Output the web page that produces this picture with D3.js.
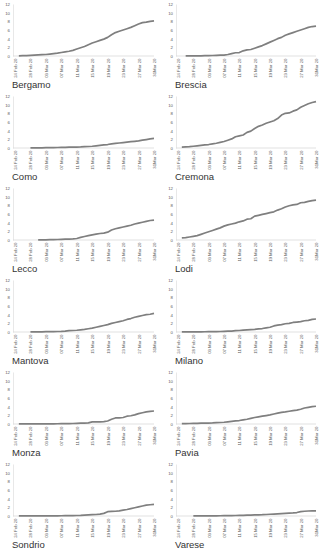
<!DOCTYPE html>
<html>
<head>
<meta charset="utf-8">
<script src="https://cdn.jsdelivr.net/npm/d3@7"></script>
<style>
  body { margin: 0; background: #fff; }
  text { font-family: "Liberation Sans", Arial, sans-serif; }
</style>
</head>
<body>
<svg id="chart"></svg>
<script>
// day index 0 = 24 Feb 2020 ... 36 = 31 Mar 2020
const tickDays = [0, 4, 8, 12, 16, 20, 24, 28, 32, 36];
const tickLabels = ['24 Feb 20', '28 Feb 20', '03 Mar 20', '07 Mar 20', '11 Mar 20',
  '15 Mar 20', '19 Mar 20', '23 Mar 20', '27 Mar 20', '31Mar 20'];
const yTicks = [0, 2, 4, 6, 8, 10, 12];

const provinces = ['Bergamo', 'Brescia', 'Como', 'Cremona', 'Lecco', 'Lodi',
  'Mantova', 'Milano', 'Monza', 'Pavia', 'Sondrio', 'Varese'];

const bergamo = [null,
  0.05, 0.08, 0.1, 0.15, 0.2, 0.25, 0.3, 0.35, 0.45, 0.55, 0.65, 0.8,
  0.95, 1.1, 1.3, 1.6, 1.9, 2.2, 2.6, 3.0, 3.3, 3.6, 3.9, 4.3,
  4.9, 5.4, 5.7, 6.0, 6.3, 6.6, 7.0, 7.4, 7.7, 7.8, 8.0, 8.1];
const brescia = [null, null,
  0.05, 0.05, 0.05, 0.05, 0.05, 0.08, 0.1, 0.12, 0.15, 0.18, 0.2,
  0.35, 0.55, 0.75, 0.8, 1.2, 1.4, 1.5, 1.8, 2.1, 2.4, 2.8, 3.2,
  3.6, 4.0, 4.3, 4.8, 5.1, 5.4, 5.7, 6.0, 6.3, 6.6, 6.8, 6.9];
const como = [null, null, null, null,
  0.05, 0.05, 0.05, 0.05, 0.08, 0.1, 0.1, 0.12,
  0.15, 0.15, 0.18, 0.2, 0.22, 0.25, 0.3, 0.35, 0.4, 0.5, 0.6, 0.7,
  0.8, 0.95, 1.05, 1.15, 1.25, 1.35, 1.45, 1.55, 1.65, 1.8, 1.95, 2.1, 2.2];
const cremona = [null,
  0.2, 0.25, 0.3, 0.4, 0.5, 0.6, 0.7, 0.8, 0.95, 1.1, 1.3, 1.5,
  1.8, 2.1, 2.6, 2.8, 3.0, 3.6, 3.9, 4.5, 5.0, 5.3, 5.7, 6.0,
  6.3, 6.8, 7.6, 8.0, 8.1, 8.5, 8.8, 9.4, 9.8, 10.2, 10.5, 10.7];
const lecco = [null, null, null, null, null, null,
  0.05, 0.05, 0.05, 0.08, 0.1, 0.12, 0.15, 0.18, 0.2, 0.25, 0.35,
  0.6, 0.8, 1.0, 1.2, 1.35, 1.5, 1.6, 1.8,
  2.3, 2.6, 2.8, 3.0, 3.2, 3.4, 3.7, 3.9, 4.1, 4.3, 4.5, 4.6];
const lodi = [null,
  0.5, 0.55, 0.7, 0.85, 1.0, 1.3, 1.6, 1.9, 2.2, 2.5, 2.8, 3.2,
  3.5, 3.7, 3.9, 4.2, 4.4, 4.8, 4.9, 5.5, 5.7, 5.9, 6.1, 6.3,
  6.5, 6.9, 7.2, 7.6, 7.9, 8.1, 8.2, 8.6, 8.7, 8.9, 9.1, 9.2];
const mantova = [null, null, null, null,
  0.05, 0.05, 0.05, 0.05, 0.08, 0.1, 0.1, 0.12,
  0.15, 0.2, 0.3, 0.35, 0.4, 0.5, 0.6, 0.75, 0.9, 1.1, 1.3, 1.5,
  1.7, 2.0, 2.2, 2.4, 2.6, 2.9, 3.1, 3.4, 3.6, 3.8, 4.0, 4.1, 4.3];
const milano = [null,
  0.02, 0.02, 0.03, 0.03, 0.04, 0.05, 0.06, 0.07, 0.08, 0.1, 0.12, 0.15,
  0.18, 0.22, 0.3, 0.35, 0.45, 0.5, 0.55, 0.6, 0.7, 0.8, 0.95, 1.1,
  1.4, 1.6, 1.7, 1.9, 2.0, 2.2, 2.3, 2.4, 2.6, 2.7, 2.9, 3.0];
const monza = [null,
  0.02, 0.02, 0.02, 0.03, 0.03, 0.03, 0.04, 0.04, 0.05, 0.05, 0.06, 0.07,
  0.08, 0.1, 0.12, 0.15, 0.18, 0.2, 0.25, 0.5, 0.5, 0.5, 0.55, 0.7,
  1.1, 1.4, 1.4, 1.5, 1.8, 1.9, 2.1, 2.4, 2.6, 2.8, 2.9, 3.0];
const pavia = [null,
  0.1, 0.1, 0.12, 0.15, 0.15, 0.18, 0.2, 0.22, 0.25, 0.3, 0.35, 0.4,
  0.5, 0.6, 0.7, 0.8, 0.95, 1.1, 1.3, 1.5, 1.65, 1.8, 1.95, 2.1,
  2.3, 2.5, 2.7, 2.8, 2.95, 3.1, 3.2, 3.4, 3.7, 3.85, 4.0, 4.1];
const sondrio = [null,
  0.02, 0.02, 0.02, 0.02, 0.03, 0.03, 0.03, 0.04, 0.04, 0.05, 0.05, 0.06,
  0.07, 0.08, 0.1, 0.12, 0.15, 0.2, 0.25, 0.3, 0.35, 0.45, 0.6, 1.0,
  1.05, 1.1, 1.2, 1.35, 1.5, 1.7, 1.9, 2.1, 2.3, 2.5, 2.6, 2.7];
const varese = [null, null, null, null,
  0.02, 0.02, 0.03, 0.03, 0.04, 0.05, 0.05, 0.06,
  0.07, 0.08, 0.1, 0.12, 0.14, 0.16, 0.18, 0.2, 0.25, 0.28, 0.3, 0.35,
  0.4, 0.45, 0.5, 0.55, 0.6, 0.65, 0.7, 0.8, 1.0, 1.1, 1.15, 1.2, 1.2];

const series = [bergamo, brescia, como, cremona, lecco, lodi,
  mantova, milano, monza, pavia, sondrio, varese];

// layout
const width = 323, height = 550;
const colX = [13, 176];
const colW = [141, 140];
const rowTop = [4, 96, 188, 280, 372, 464];
const plotH = 52;

const svg = d3.select('#chart')
  .attr('width', width)
  .attr('height', height);

const yScale = d3.scaleLinear().domain([0, 12]).range([plotH, 0]);

provinces.forEach((name, i) => {
  const col = i % 2, row = Math.floor(i / 2);
  const w = colW[col];

  const xScale = d3.scaleLinear().domain([0, 36]).range([2, w]);

  const g = svg.append('g')
    .attr('transform', `translate(${colX[col]},${rowTop[row]})`);

  // y axis
  const yAxis = d3.axisLeft(yScale).tickValues(yTicks).tickSize(0).tickPadding(3);
  const yG = g.append('g').call(yAxis);
  yG.select('.domain').attr('stroke', '#d9d9d9').attr('stroke-width', 0.6);
  yG.selectAll('text').attr('font-size', 4.3).attr('fill', '#595959');

  // x axis
  const xAxis = d3.axisBottom(xScale)
    .tickValues(tickDays)
    .tickFormat((d, k) => tickLabels[k])
    .tickSize(0)
    .tickSizeOuter(0);
  const xG = g.append('g')
    .attr('transform', `translate(0,${plotH})`)
    .call(xAxis);
  xG.select('.domain').attr('stroke', '#d9d9d9').attr('stroke-width', 0.8)
    .attr('d', `M0,0H${w}`);
  xG.selectAll('text')
    .attr('font-size', 4.3)
    .attr('fill', '#595959')
    .attr('text-anchor', 'end')
    .attr('transform', 'rotate(-90)')
    .attr('x', -2.5)
    .attr('y', 0)
    .attr('dy', '0.35em');

  // line
  const line = d3.line()
    .defined(d => d != null)
    .x((d, k) => xScale(k))
    .y(d => yScale(d));

  g.append('path')
    .datum(series[i])
    .attr('fill', 'none')
    .attr('stroke', '#7f7f7f')
    .attr('stroke-width', 1.7)
    .attr('stroke-linejoin', 'round')
    .attr('d', line);

  // province name
  g.append('text')
    .attr('x', -1)
    .attr('y', 84)
    .attr('font-size', 9.5)
    .attr('fill', '#333')
    .text(name);
});
</script>
</body>
</html>
